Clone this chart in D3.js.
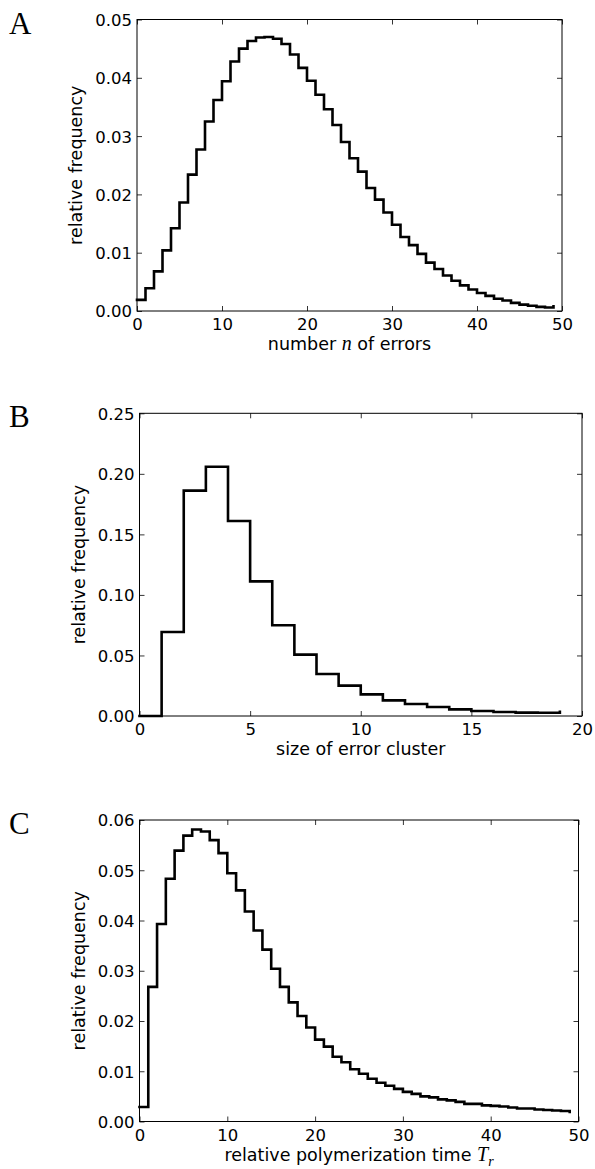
<!DOCTYPE html>
<html>
<head>
<meta charset="utf-8">
<script src="https://cdn.jsdelivr.net/npm/d3@7"></script>
<style>
  html, body { margin: 0; padding: 0; background: #fff; }
  svg { display: block; }
</style>
</head>
<body>
<svg id="chart" width="595" height="1169"></svg>
<script>
// ---------- DATA ----------
// Panel A: relative frequency of number n of errors (n = 0..49)
const errorsValues = [
  0.0019, 0.0039, 0.0068, 0.0104, 0.0142, 0.0186, 0.0234, 0.0277, 0.0325, 0.0362,
  0.0394, 0.0428, 0.0450, 0.0463, 0.0469, 0.0470, 0.0467, 0.0458, 0.0440, 0.0417,
  0.0395, 0.0371, 0.0346, 0.0319, 0.0290, 0.0262, 0.0239, 0.0211, 0.0191, 0.0169,
  0.0148, 0.0127, 0.0113, 0.0098, 0.0083, 0.0072, 0.0061, 0.0052, 0.0044, 0.0037,
  0.0031, 0.0026, 0.0021, 0.0018, 0.0014, 0.0011, 0.0009, 0.0007, 0.0006, 0.0008
];
// Panel B: relative frequency of size of error cluster (0..19)
const clusterValues = [
  0.0, 0.0694, 0.1861, 0.2059, 0.1611, 0.1112, 0.0749, 0.0507, 0.0347, 0.0251,
  0.0179, 0.0129, 0.0099, 0.0074, 0.0055, 0.0041, 0.0033, 0.0028, 0.0027, 0.0034
];
// Panel C: relative frequency of relative polymerization time T_r (0..49)
const timeValues = [
  0.0029, 0.0268, 0.0393, 0.0483, 0.0539, 0.0569, 0.0581, 0.0577, 0.0560, 0.0534,
  0.0494, 0.0460, 0.0418, 0.0380, 0.0342, 0.0304, 0.0268, 0.0237, 0.0210, 0.0187,
  0.0163, 0.0149, 0.0129, 0.0118, 0.0104, 0.0095, 0.0085, 0.0077, 0.0071, 0.0065,
  0.0059, 0.0055, 0.0050, 0.0048, 0.0044, 0.0042, 0.0039, 0.0035, 0.0035, 0.0032,
  0.0031, 0.0030, 0.0028, 0.0026, 0.0026, 0.0024, 0.0023, 0.0022, 0.0021, 0.0019
];

const errorsXTicks = [0, 10, 20, 30, 40, 50];
const errorsYTicks = [0.00, 0.01, 0.02, 0.03, 0.04, 0.05];
const clusterXTicks = [0, 5, 10, 15, 20];
const clusterYTicks = [0.00, 0.05, 0.10, 0.15, 0.20, 0.25];
const timeXTicks = [0, 10, 20, 30, 40, 50];
const timeYTicks = [0.00, 0.01, 0.02, 0.03, 0.04, 0.05, 0.06];

const panelLetters = ["A", "B", "C"];
const yAxisLabel = "relative frequency";

// ---------- LAYOUT ----------
const panels = [
  { letter: panelLetters[0], values: errorsValues, xDomain: [0, 50], yDomain: [0, 0.05],
    xTicks: errorsXTicks, yTicks: errorsYTicks,
    box: { l: 137, r: 562, t: 19.5, b: 311 },
    xlabel: [{ t: "number " }, { t: "n", it: true }, { t: " of errors" }] },
  { letter: panelLetters[1], values: clusterValues, xDomain: [0, 20], yDomain: [0, 0.25],
    xTicks: clusterXTicks, yTicks: clusterYTicks,
    box: { l: 139.5, r: 582, t: 413.3, b: 716 },
    xlabel: [{ t: "size of error cluster" }] },
  { letter: panelLetters[2], values: timeValues, xDomain: [0, 50], yDomain: [0, 0.06],
    xTicks: timeXTicks, yTicks: timeYTicks,
    box: { l: 139.5, r: 578.5, t: 820, b: 1121.5 },
    xlabel: [{ t: "relative polymerization time " }, { t: "T", it: true }, { t: "r", it: true, sub: true }] }
];

const svg = d3.select("#chart");
const sansFont = "'DejaVu Sans', sans-serif";
const tickFontSize = 16.5;
const labelFontSize = 17.5;
const tickLen = 5;

panels.forEach(p => {
  const { l, r, t, b } = p.box;
  const x = d3.scaleLinear().domain(p.xDomain).range([l, r]);
  const y = d3.scaleLinear().domain(p.yDomain).range([b, t]);
  const g = svg.append("g");

  const styleAxis = sel => {
    sel.select(".domain").remove();
    sel.selectAll(".tick line").attr("stroke", "#000").attr("stroke-width", 0.8);
    sel.selectAll("text").attr("fill", "#000");
    sel.attr("font-family", sansFont).attr("font-size", tickFontSize);
  };

  // bottom axis (ticks inward, labels)
  g.append("g").attr("transform", `translate(0,${b})`)
    .call(d3.axisBottom(x).tickValues(p.xTicks).tickSize(-tickLen).tickPadding(6)
      .tickFormat(d3.format("d")))
    .call(styleAxis)
    .selectAll("text").attr("y", 19).attr("dy", null);
  // top axis (ticks only)
  g.append("g").attr("transform", `translate(0,${t})`)
    .call(d3.axisTop(x).tickValues(p.xTicks).tickSize(-tickLen).tickFormat(""))
    .call(styleAxis);
  // left axis (ticks inward, labels)
  g.append("g").attr("transform", `translate(${l},0)`)
    .call(d3.axisLeft(y).tickValues(p.yTicks).tickSize(-tickLen).tickPadding(5)
      .tickFormat(d3.format(".2f")))
    .call(styleAxis)
    .selectAll("text").attr("x", -5).attr("dy", "0.36em");
  // right axis (ticks only)
  g.append("g").attr("transform", `translate(${r},0)`)
    .call(d3.axisRight(y).tickValues(p.yTicks).tickSize(-tickLen).tickFormat(""))
    .call(styleAxis);

  // frame
  g.append("rect")
    .attr("x", l).attr("y", t).attr("width", r - l).attr("height", b - t)
    .attr("fill", "none").attr("stroke", "#000").attr("stroke-width", 1);

  // step line
  const line = d3.line()
    .x((d, i) => x(i))
    .y(d => y(d))
    .curve(d3.curveStepAfter);
  g.append("path")
    .datum(p.values)
    .attr("d", line)
    .attr("fill", "none")
    .attr("stroke", "#000")
    .attr("stroke-width", 2.6)
    .attr("stroke-linejoin", "miter")
    .attr("stroke-linecap", "square");

  // y label
  g.append("text")
    .attr("transform", `translate(${l - 55},${(t + b) / 2}) rotate(-90)`)
    .attr("text-anchor", "middle")
    .attr("font-family", sansFont)
    .attr("font-size", labelFontSize)
    .attr("fill", "#000")
    .text(yAxisLabel);

  // x label
  const xl = g.append("text")
    .attr("x", (l + r) / 2)
    .attr("y", b + 39)
    .attr("text-anchor", "middle")
    .attr("font-family", sansFont)
    .attr("font-size", labelFontSize)
    .attr("fill", "#000");
  p.xlabel.forEach(part => {
    const ts = xl.append("tspan").text(part.t);
    if (part.it) {
      ts.attr("font-family", "'Liberation Serif', 'DejaVu Serif', serif")
        .attr("font-style", "italic")
        .attr("font-size", part.sub ? 14 : 20);
    }
    if (part.sub) ts.attr("dy", 5);
  });

  // panel letter
  g.append("text")
    .attr("x", 9)
    .attr("y", t + 14)
    .attr("font-family", "'Liberation Serif', 'Times New Roman', serif")
    .attr("font-size", 31)
    .attr("fill", "#000")
    .text(p.letter);
});
</script>
</body>
</html>
